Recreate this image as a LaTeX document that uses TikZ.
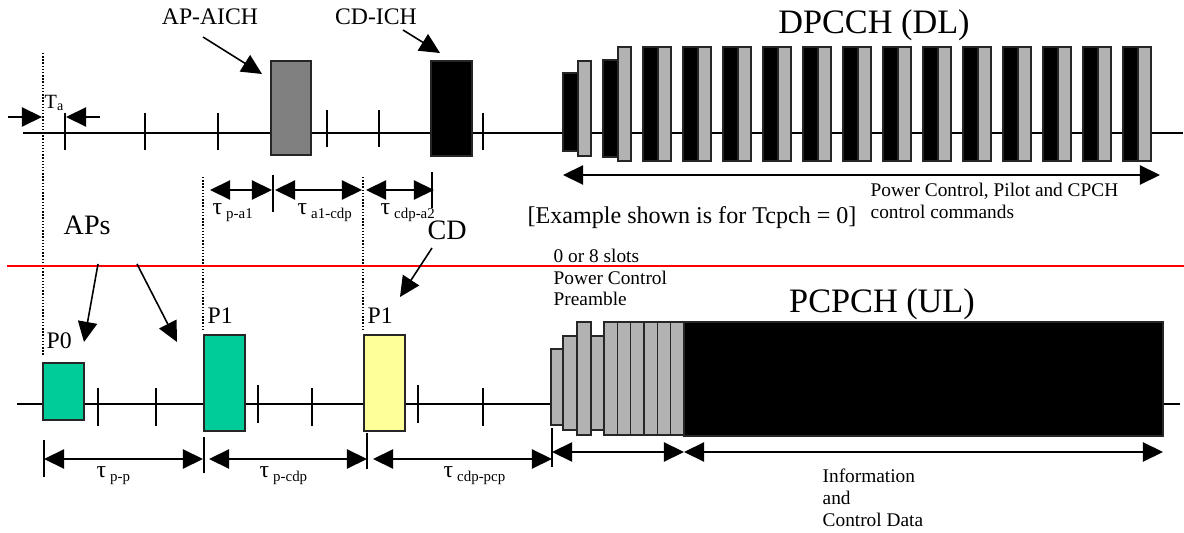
\documentclass[tikz,border=0pt]{standalone}
\usepackage{fontspec}
\setmainfont{Liberation Serif}
\usepackage{tikz}
\usetikzlibrary{arrows.meta}
\definecolor{pgreen}{HTML}{00CC99}
\definecolor{pyellow}{HTML}{FFFF99}
\definecolor{slotgrey}{HTML}{B2B2B2}
\definecolor{aichgrey}{HTML}{808080}
\newcommand{\tausub}[1]{τ\,{\fontsize{8.5}{10}\selectfont\raisebox{-0.45ex}{#1}}}

\begin{document}
\begin{tikzpicture}[
  x=0.02cm, y=-0.02cm, line width=0.8pt,
  chanbox/.style={draw=black!85,line width=0.8pt},
  tickmark/.style={line width=0.8pt},
  dotline/.style={densely dotted,line width=0.8pt},
  ptr/.style={-{Triangle[length=11.5pt,width=11pt]},line width=0.9pt},
  dimarr/.style={{Triangle[length=11.5pt,width=11pt]}-{Triangle[length=11.5pt,width=11pt]},line width=0.9pt},
  lbl/.style={inner sep=0pt,font=\fontsize{13.5}{16}\selectfont},
  biglbl/.style={inner sep=0pt,font=\fontsize{16}{19}\selectfont},
  titlelbl/.style={inner sep=0pt,font=\fontsize{19.5}{23}\selectfont},
  notelbl/.style={inner sep=0pt,anchor=base west,font=\fontsize{11}{13}\selectfont},
  taulbl/.style={inner sep=0pt,anchor=base west,font=\fontsize{13.5}{15}\selectfont},
]
\useasboundingbox (0,0) rectangle (1184,533);

% Downlink lane (top)
\draw (23,133) -- (1183,133);
\foreach \x/\ya/\yb in {65/113/150,145/113/150,218/113/150,327/110/147,379/110/147,483/113/150}
  \draw[tickmark] (\x,\ya) -- (\x,\yb);
\draw[dotline] (43,53) -- (43,355);
\draw[chanbox,fill=aichgrey] (271,61) rectangle (311,155);
\draw[chanbox,fill=black] (431,61) rectangle (472,156);

\node[lbl,anchor=base] (aichlbl) at (210,25) {AP-AICH};
\node[lbl,anchor=base] (ichlbl)  at (376,25) {CD-ICH};
\coordinate (aichfrom) at (203,37);  \coordinate (aichto) at (262,74);
\coordinate (ichfrom)  at (403,30);  \coordinate (ichto)  at (440,53);
\draw[ptr] (aichfrom) -- (aichto);
\draw[ptr] (ichfrom) -- (ichto);

% T_a marker
\node[inner sep=0pt,anchor=base west,font=\fontsize{11.5}{13}\selectfont] (talbl) at (44,109) {T{\fontsize{8}{9}\selectfont\raisebox{-0.3ex}{a}}};
\coordinate (tal1) at (8,117);   \coordinate (tal2) at (42,117);
\coordinate (tar1) at (100,117); \coordinate (tar2) at (66,117);
\draw[ptr] (tal1) -- (tal2);
\draw[ptr] (tar1) -- (tar2);

% DPCCH (DL) slots
\draw[chanbox,fill=black]    (563,73) rectangle (578,151);
\draw[chanbox,fill=slotgrey] (578,61) rectangle (591,156);
\draw[chanbox,fill=black]    (603,60) rectangle (618,157);
\draw[chanbox,fill=slotgrey] (618,47) rectangle (631,161);
\foreach \k in {0,...,12}{
  \draw[chanbox,fill=black]    ({643+40*\k},47) rectangle ({658+40*\k},161);
  \draw[chanbox,fill=slotgrey] ({658+40*\k},47) rectangle ({671+40*\k},161);
}
\node[titlelbl,anchor=base] (dltitle) at (874,34) {DPCCH (DL)};
\coordinate (dlstart) at (563,175); \coordinate (dlend) at (1160,175);
\draw[dimarr] (dlstart) -- (dlend);
\node[notelbl] (dlnote1) at (870,197) {Power Control, Pilot and CPCH};
\node[notelbl] (dlnote2) at (870,219) {control commands};
\node[inner sep=0pt,anchor=base west,font=\fontsize{13.7}{16}\selectfont] (example) at (527,224) {[Example shown is for Tcpch = 0]};

% timing offsets (top)
\draw[dotline] (203,177) -- (203,330);
\draw[dotline] (363,177) -- (363,330);
\draw[tickmark] (273,175) -- (273,212);
\draw[tickmark] (432,172) -- (432,208);
\coordinate (pa1a) at (210,190); \coordinate (pa1b) at (272,190);
\coordinate (a1ca) at (275,190); \coordinate (a1cb) at (362,190);
\coordinate (ca2a) at (366,190); \coordinate (ca2b) at (434,190);
\draw[dimarr] (pa1a) -- (pa1b);
\draw[dimarr] (a1ca) -- (a1cb);
\draw[dimarr] (ca2a) -- (ca2b);
\node[taulbl] (taupa1)  at (212,215) {\tausub{p-a1}};
\node[taulbl] (taua1c)  at (297,215) {\tausub{a1-cdp}};
\node[taulbl] (taucda2) at (380,215) {\tausub{cdp-a2}};

% separator
\draw[red,line width=1.6pt] (7,266) -- (1184,266);

% Uplink lane (bottom)
\node[biglbl,anchor=base west] (apslbl) at (63,235) {APs};
\node[biglbl,anchor=base west] (cdlbl)  at (427,240) {CD};
\coordinate (aps1from) at (98,264);  \coordinate (aps1to) at (84,342);
\coordinate (aps2from) at (137,264); \coordinate (aps2to) at (177,342);
\coordinate (cdfrom)   at (432,248); \coordinate (cdto)   at (400,297);
\draw[ptr] (aps1from) -- (aps1to);
\draw[ptr] (aps2from) -- (aps2to);
\draw[ptr] (cdfrom) -- (cdto);

\draw (17,404) -- (1180,404);
\foreach \x/\ya/\yb in {98/388/426,156/388/426,258/385/423,312/388/426,418/385/423,483/388/426}
  \draw[tickmark] (\x,\ya) -- (\x,\yb);
\draw[chanbox,fill=pgreen]  (43,363) rectangle (84,420);
\draw[chanbox,fill=pgreen]  (204,335) rectangle (245,431);
\draw[chanbox,fill=pyellow] (364,335) rectangle (405,431);
\node[lbl,anchor=base west] (p0lbl)  at (46,349) {P0};
\node[lbl,anchor=base west] (p1lbl)  at (207,324) {P1};
\node[lbl,anchor=base west] (p1blbl) at (367,324) {P1};

% PCPCH (UL) preamble and message
\draw[chanbox,fill=slotgrey] (551,349) rectangle (563,425);
\draw[chanbox,fill=slotgrey] (563,336) rectangle (577,430);
\draw[chanbox,fill=slotgrey] (577,322) rectangle (591,435);
\draw[chanbox,fill=slotgrey] (591,336) rectangle (604,430);
\foreach \k in {0,...,5}
  \draw[chanbox,fill=slotgrey] ({604+13.33*\k},322) rectangle ({617.33+13.33*\k},435);
\draw[chanbox,fill=black] (684,322) rectangle (1163,436);
\node[titlelbl,anchor=base] (ultitle) at (882,313) {PCPCH (UL)};
\node[notelbl] (prenote1) at (553,263) {0 or 8 slots};
\node[notelbl] (prenote2) at (553,285) {Power Control};
\node[notelbl] (prenote3) at (553,306) {Preamble};

% timing offsets (bottom)
\foreach \x/\ya/\yb in {44/440/477,204/437/473,367/433/469,552/428/467}
  \draw[tickmark] (\x,\ya) -- (\x,\yb);
\coordinate (ppa) at (44,459);  \coordinate (ppb) at (203,459);
\coordinate (pca) at (209,459); \coordinate (pcb) at (367,459);
\coordinate (cpa) at (373,459); \coordinate (cpb) at (552,459);
\coordinate (prea) at (552,452); \coordinate (preb) at (684,452);
\coordinate (msga) at (684,452); \coordinate (msgb) at (1163,452);
\draw[dimarr] (ppa) -- (ppb);
\draw[dimarr] (pca) -- (pcb);
\draw[dimarr] (cpa) -- (cpb);
\draw[dimarr] (prea) -- (preb);
\draw[dimarr] (msga) -- (msgb);
\node[taulbl] (taupp)  at (96,478)  {\tausub{p-p}};
\node[taulbl] (taupc)  at (259,478) {\tausub{p-cdp}};
\node[taulbl] (taucpp) at (443,478) {\tausub{cdp-pcp}};
\node[notelbl] (msgnote1) at (822,483) {Information};
\node[notelbl] (msgnote2) at (822,505) {and};
\node[notelbl] (msgnote3) at (822,527) {Control Data};
\end{tikzpicture}
\end{document}
